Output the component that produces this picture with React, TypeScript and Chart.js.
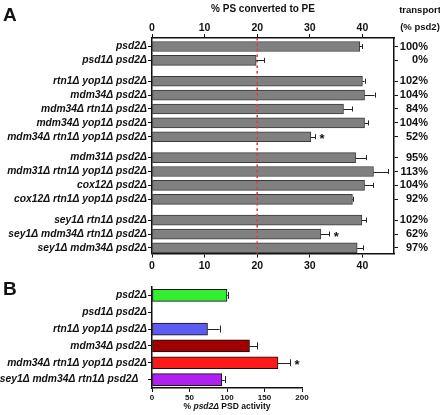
import React, { useEffect, useRef } from 'react';
import { Chart, registerables } from 'chart.js';

Chart.register(...registerables);

const FONT = "'Liberation Sans', Arial, Helvetica, sans-serif";
const INK = '#111111';

// ---------- Panel A data ----------
const groupSizesA = [2, 5, 4, 3];
const labelsA = [
  'psd2Δ',
  'psd1Δ psd2Δ',
  'rtn1Δ yop1Δ psd2Δ',
  'mdm34Δ psd2Δ',
  'mdm34Δ rtn1Δ psd2Δ',
  'mdm34Δ yop1Δ psd2Δ',
  'mdm34Δ rtn1Δ yop1Δ psd2Δ',
  'mdm31Δ psd2Δ',
  'mdm31Δ rtn1Δ yop1Δ psd2Δ',
  'cox12Δ psd2Δ',
  'cox12Δ rtn1Δ yop1Δ psd2Δ',
  'sey1Δ rtn1Δ psd2Δ',
  'sey1Δ mdm34Δ rtn1Δ psd2Δ',
  'sey1Δ mdm34Δ psd2Δ',
];
const valuesA = [39.5, 19.8, 40.0, 40.4, 36.4, 40.4, 30.2, 38.7, 42.1, 40.4, 38.1, 39.9, 32.1, 39.0];
const errorsA = [0.5, 1.5, 0.4, 1.9, 1.7, 0.7, 0.8, 2.0, 2.8, 1.7, 0.2, 0.8, 1.6, 1.2];
const transportA = ['100%', '0%', '102%', '104%', '84%', '104%', '52%', '95%', '113%', '104%', '92%', '102%', '62%', '97%'];
const starsA = [false, false, false, false, false, false, true, false, false, false, false, false, true, false];
const refLineA = 20;
const axisMaxA = 46;
const tickStepA = 10;
const titleA = '% PS converted to PE';
const rightTitleA = ['transport', '(% psd2)'];

// ---------- Panel B data ----------
const labelsB = [
  'psd2Δ',
  'psd1Δ psd2Δ',
  'rtn1Δ yop1Δ psd2Δ',
  'mdm34Δ psd2Δ',
  'mdm34Δ rtn1Δ yop1Δ psd2Δ',
  'sey1Δ mdm34Δ rtn1Δ psd2Δ   ',
];
const valuesB = [100, 0, 74, 130, 168, 93];
const errorsB = [1, 0, 16, 10, 16, 4];
const colorsB = ['#33ee33', '#ffffff', '#5c5cf0', '#a00000', '#ff1a1a', '#b020f0'];
const starsB = [false, false, false, false, true, false];
const axisMaxB = 200;
const tickStepB = 50;

// row positions for panel A (half-row gap between groups)
const positionsA: number[] = [];
(() => {
  let pos = 0;
  groupSizesA.forEach((n, g) => {
    if (g > 0) pos += 0.5;
    for (let k = 0; k < n; k++) {
      positionsA.push(pos);
      pos += 1;
    }
  });
})();

const LABEL_SIZE = 10.3;

function drawErrorBars(chart: any, values: number[], errors: number[], stars: boolean[], cap: number, starOffset: number) {
  const ctx = chart.ctx;
  const meta = chart.getDatasetMeta(0);
  const xs = chart.scales[meta.xAxisID];
  ctx.save();
  ctx.strokeStyle = '#222';
  ctx.lineWidth = 1;
  meta.data.forEach((bar: any, i: number) => {
    const err = errors[i];
    const y = bar.y;
    let xEnd = xs.getPixelForValue(values[i]);
    if (err) {
      const x0 = xs.getPixelForValue(values[i]);
      const x1 = xs.getPixelForValue(values[i] + err);
      ctx.beginPath();
      ctx.moveTo(x0, Math.round(y) + 0.5);
      ctx.lineTo(x1, Math.round(y) + 0.5);
      ctx.moveTo(Math.round(x1) + 0.5, y - cap / 2);
      ctx.lineTo(Math.round(x1) + 0.5, y + cap / 2);
      ctx.stroke();
      xEnd = x1;
    }
    if (stars[i]) {
      ctx.fillStyle = INK;
      ctx.font = `bold 13px ${FONT}`;
      ctx.textAlign = 'center';
      ctx.textBaseline = 'middle';
      ctx.fillText('*', xEnd + starOffset, y + 3);
    }
  });
  ctx.restore();
}

const pluginA = {
  id: 'panelA',
  afterDatasetsDraw(chart: any) {
    const ctx = chart.ctx;
    const { top, bottom } = chart.chartArea;
    const xs = chart.scales.x;
    const xr = xs.getPixelForValue(refLineA);
    ctx.save();
    ctx.strokeStyle = '#e23b3b';
    ctx.lineWidth = 1.6;
    ctx.setLineDash([2.5, 3]);
    ctx.beginPath();
    ctx.moveTo(xr, top);
    ctx.lineTo(xr, bottom);
    ctx.stroke();
    ctx.restore();
    drawErrorBars(chart, valuesA, errorsA, starsA, 5, 7);
  },
  afterDraw(chart: any) {
    const ctx = chart.ctx;
    const { left, right } = chart.chartArea;
    ctx.save();
    ctx.fillStyle = INK;
    ctx.textBaseline = 'middle';
    ctx.textAlign = 'center';
    ctx.font = `bold 10px ${FONT}`;
    ctx.fillText(titleA, (left + right) / 2 - 10, 9);
    ctx.font = `bold 9.5px ${FONT}`;
    ctx.fillText(rightTitleA[0], 420, 10);
    ctx.fillText(rightTitleA[1], 420, 27);
    ctx.textAlign = 'left';
    ctx.textBaseline = 'alphabetic';
    ctx.font = `bold 19px ${FONT}`;
    ctx.fillText('A', 3, 21);
    ctx.restore();
  },
};

const pluginB = {
  id: 'panelB',
  afterDatasetsDraw(chart: any) {
    drawErrorBars(chart, valuesB, errorsB, starsB, 7, 7);
  },
  afterDraw(chart: any) {
    const ctx = chart.ctx;
    const { left, right } = chart.chartArea;
    ctx.save();
    ctx.fillStyle = INK;
    ctx.textBaseline = 'middle';
    const parts = [
      { t: '% ', f: `bold 8.5px ${FONT}` },
      { t: 'psd2Δ', f: `italic bold 8.5px ${FONT}` },
      { t: ' PSD activity', f: `bold 8.5px ${FONT}` },
    ];
    let total = 0;
    parts.forEach((p) => {
      ctx.font = p.f;
      total += ctx.measureText(p.t).width;
    });
    let x = (left + right) / 2 - total / 2;
    ctx.textAlign = 'left';
    parts.forEach((p) => {
      ctx.font = p.f;
      ctx.fillText(p.t, x, 135);
      x += ctx.measureText(p.t).width;
    });
    ctx.textBaseline = 'alphabetic';
    ctx.font = `bold 19px ${FONT}`;
    ctx.fillText('B', 3, 23);
    ctx.restore();
  },
};

const axisLine = { color: INK, width: 1.5 };
const tickGrid = { drawOnChartArea: false, drawTicks: true, tickLength: 4, color: INK, lineWidth: 1, offset: false };

export default function App() {
  const refA = useRef<HTMLCanvasElement>(null);
  const refB = useRef<HTMLCanvasElement>(null);

  useEffect(() => {
    const yMinA = -0.61;
    const yMaxA = 14.9;
    const xTicksA = {
      stepSize: tickStepA,
      includeBounds: false,
      color: INK,
      font: { family: FONT, size: 10.5, weight: 'bold' as const },
    };
    const chartA = new Chart(refA.current as HTMLCanvasElement, {
      type: 'bar',
      data: {
        datasets: [
          {
            data: positionsA.map((p, i) => ({ x: valuesA[i], y: p })),
            backgroundColor: '#808080',
            borderColor: '#3a3a3a',
            borderWidth: 1,
            borderSkipped: false,
            barThickness: 10,
            xAxisID: 'x',
            yAxisID: 'y',
          } as any,
        ],
      },
      options: {
        indexAxis: 'y',
        animation: false,
        responsive: false,
        layout: { padding: { left: 0, right: 12, top: 0, bottom: 0 } },
        plugins: { legend: { display: false }, tooltip: { enabled: false } },
        scales: {
          x: {
            type: 'linear',
            position: 'top',
            min: 0,
            max: axisMaxA,
            ticks: { ...xTicksA, padding: 0 },
            grid: tickGrid,
            border: axisLine,
            afterFit: (s: any) => { s.height = 38; },
          },
          x2: {
            type: 'linear',
            position: 'bottom',
            min: 0,
            max: axisMaxA,
            ticks: { ...xTicksA, padding: 2 },
            grid: tickGrid,
            border: axisLine,
            afterFit: (s: any) => { s.height = 272 - 253.5; },
          },
          y: {
            type: 'linear',
            position: 'left',
            min: yMinA,
            max: yMaxA,
            reverse: true,
            offset: false,
            afterBuildTicks: (s: any) => { s.ticks = positionsA.map((v) => ({ value: v })); },
            ticks: {
              autoSkip: false,
              padding: 1,
              color: INK,
              font: { family: FONT, size: LABEL_SIZE, weight: 'bold', style: 'italic' },
              callback: (_v: any, i: number) => labelsA[i],
            },
            grid: tickGrid,
            border: axisLine,
            afterFit: (s: any) => { s.width = 152; },
          },
          y2: {
            type: 'linear',
            position: 'right',
            min: yMinA,
            max: yMaxA,
            reverse: true,
            offset: false,
            afterBuildTicks: (s: any) => { s.ticks = positionsA.map((v) => ({ value: v })); },
            ticks: {
              autoSkip: false,
              padding: 1,
              crossAlign: 'far',
              color: INK,
              font: { family: FONT, size: 11, weight: 'bold' },
              callback: (_v: any, i: number) => transportA[i],
            },
            grid: tickGrid,
            border: axisLine,
            afterFit: (s: any) => { s.width = 34; },
          },
        } as any,
      },
      plugins: [pluginA],
    });

    const chartB = new Chart(refB.current as HTMLCanvasElement, {
      type: 'bar',
      data: {
        labels: labelsB,
        datasets: [
          {
            data: valuesB,
            backgroundColor: colorsB,
            borderColor: INK,
            borderWidth: 1,
            borderSkipped: false,
            barThickness: 12,
          } as any,
        ],
      },
      options: {
        indexAxis: 'y',
        animation: false,
        responsive: false,
        layout: { padding: { left: 0, right: 138, top: 15, bottom: 0 } },
        plugins: { legend: { display: false }, tooltip: { enabled: false } },
        scales: {
          x: {
            type: 'linear',
            position: 'bottom',
            min: 0,
            max: axisMaxB,
            ticks: {
              stepSize: tickStepB,
              padding: 1,
              color: INK,
              font: { family: FONT, size: 8, weight: 'bold' },
            },
            grid: tickGrid,
            border: axisLine,
            afterFit: (s: any) => { s.height = 27; },
          },
          y: {
            type: 'category',
            position: 'left',
            ticks: {
              autoSkip: false,
              padding: 1,
              color: INK,
              font: { family: FONT, size: LABEL_SIZE, weight: 'bold', style: 'italic' },
            },
            grid: tickGrid,
            border: axisLine,
            afterFit: (s: any) => { s.width = 152; },
          },
        } as any,
      },
      plugins: [pluginB],
    });

    return () => {
      chartA.destroy();
      chartB.destroy();
    };
  }, []);

  return (
    <div style={{ position: 'absolute', left: 0, top: 0, width: 440, height: 415, background: '#ffffff' }}>
      <canvas ref={refA} width={440} height={272} style={{ position: 'absolute', left: 0, top: 0, width: 440, height: 272 }} />
      <canvas ref={refB} width={440} height={143} style={{ position: 'absolute', left: 0, top: 272, width: 440, height: 143 }} />
    </div>
  );
}
